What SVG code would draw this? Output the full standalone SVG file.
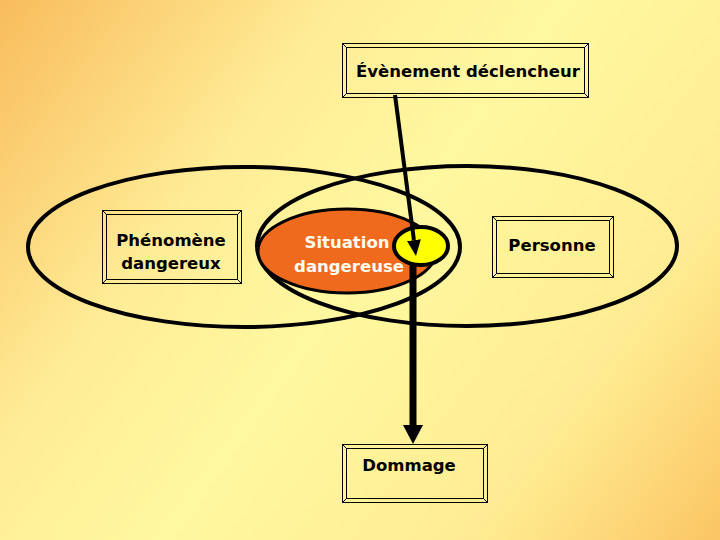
<svg xmlns="http://www.w3.org/2000/svg" width="720" height="540" viewBox="0 0 720 540">
  <defs>
    <linearGradient id="bg" gradientUnits="userSpaceOnUse" x1="0" y1="0" x2="720" y2="540">
      <stop offset="0" stop-color="#F8BC5C"/>
      <stop offset="0.3" stop-color="#FFEC96"/>
      <stop offset="0.5" stop-color="#FFF8A0"/>
      <stop offset="0.78" stop-color="#FFEC92"/>
      <stop offset="1" stop-color="#FBC563"/>
    </linearGradient>
    <marker id="ah1" markerUnits="userSpaceOnUse" markerWidth="16" markerHeight="14" refX="0" refY="7" orient="auto">
      <path d="M0,0 L16,7 L0,14 z" fill="#000"/>
    </marker>
    <marker id="ah2" markerUnits="userSpaceOnUse" markerWidth="19" markerHeight="20" refX="0" refY="10" orient="auto">
      <path d="M0,0 L19,10 L0,20 z" fill="#000"/>
    </marker>
    <style>
      .frame { fill: none; stroke: #000; stroke-width: 1; }
      .lbl { font-family: "DejaVu Sans", "Liberation Sans", sans-serif; font-size: 16.5px; font-weight: bold; fill: #000; text-anchor: middle; }
      .white { fill: #FFFFF0; }
      .set { fill: none; stroke: #000; stroke-width: 4; }
    </style>
  </defs>

  <rect x="0" y="0" width="720" height="540" fill="url(#bg)"/>

  <g id="set-phenomene">
    <ellipse class="set" cx="244" cy="247" rx="216" ry="80"/>
  </g>
  <g id="set-personne">
    <ellipse class="set" cx="467" cy="246" rx="210" ry="80"/>
  </g>

  <g id="situation-dangereuse">
    <ellipse cx="347" cy="251" rx="89" ry="42" fill="#F06A1E" stroke="#000" stroke-width="3"/>
  </g>
  <g id="evenement-point">
    <ellipse cx="421" cy="246" rx="27" ry="19" fill="#FFFF00" stroke="#000" stroke-width="4"/>
  </g>
  <g id="situation-label">
    <text class="lbl white" x="347" y="248">Situation</text>
    <text class="lbl white" x="349" y="272">dangereuse</text>
  </g>

  <g id="evenement-declencheur">
    <rect class="frame" x="342.5" y="43.5" width="246" height="54"/>
    <rect class="frame" x="346.5" y="47.5" width="238" height="46"/>
    <path class="frame" d="M342.5,43.5 L346.5,47.5 M588.5,43.5 L584.5,47.5 M342.5,97.5 L346.5,93.5 M588.5,97.5 L584.5,93.5"/>
    <text class="lbl" x="468" y="77">Évènement déclencheur</text>
  </g>

  <g id="phenomene-dangereux">
    <rect class="frame" x="102.5" y="210.5" width="139" height="73"/>
    <rect class="frame" x="106.5" y="214.5" width="131" height="65"/>
    <path class="frame" d="M102.5,210.5 L106.5,214.5 M241.5,210.5 L237.5,214.5 M102.5,283.5 L106.5,279.5 M241.5,283.5 L237.5,279.5"/>
    <text class="lbl" x="171" y="246">Phénomène</text>
    <text class="lbl" x="171" y="269">dangereux</text>
  </g>

  <g id="personne">
    <rect class="frame" x="492.5" y="216.5" width="121" height="61"/>
    <rect class="frame" x="496.5" y="220.5" width="113" height="53"/>
    <path class="frame" d="M492.5,216.5 L496.5,220.5 M613.5,216.5 L609.5,220.5 M492.5,277.5 L496.5,273.5 M613.5,277.5 L609.5,273.5"/>
    <text class="lbl" x="552" y="251">Personne</text>
  </g>

  <g id="dommage">
    <rect class="frame" x="342.5" y="444.5" width="145" height="58"/>
    <rect class="frame" x="346.5" y="448.5" width="137" height="50"/>
    <path class="frame" d="M342.5,444.5 L346.5,448.5 M487.5,444.5 L483.5,448.5 M342.5,502.5 L346.5,498.5 M487.5,502.5 L483.5,498.5"/>
    <text class="lbl" x="409" y="471">Dommage</text>
  </g>

  <g id="connectors">
    <line x1="395" y1="95" x2="413.9" y2="240.1" stroke="#000" stroke-width="4" marker-end="url(#ah1)"/>
    <line x1="413" y1="263" x2="413" y2="425" stroke="#000" stroke-width="7" marker-end="url(#ah2)"/>
  </g>
</svg>
